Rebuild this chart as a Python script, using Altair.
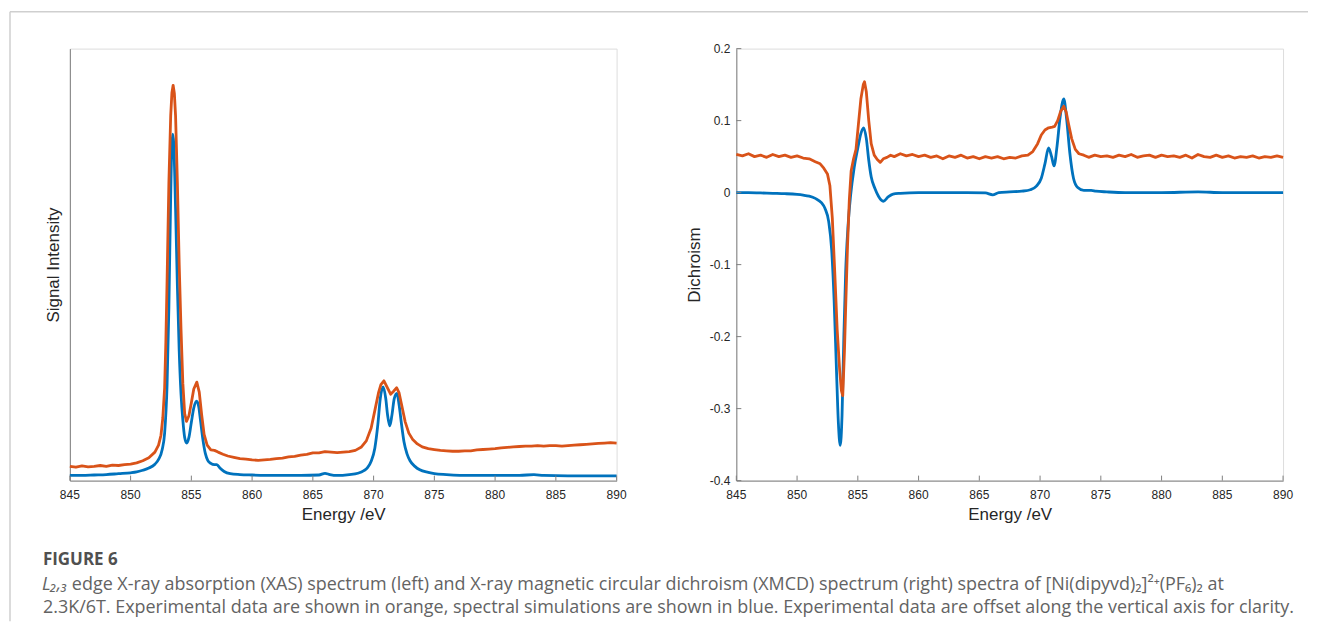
import altair as alt
import pandas as pd

# ---------------- data ----------------
# Left panel: XAS (arbitrary intensity, 0 = bottom of axis, 1 = top of axis)
xas_exp_E = [845.0, 845.5, 846.0, 846.5, 847.0, 847.5, 848.0, 848.5, 849.0, 849.5, 850.0, 850.5,
             851.0, 851.5, 852.0, 852.3, 852.5, 852.65, 852.8, 852.9, 853.0, 853.15, 853.3, 853.4,
             853.5, 853.6, 853.7, 853.85, 854.0, 854.15, 854.3, 854.45, 854.6, 854.8, 855.0, 855.2,
             855.45, 855.65, 855.85, 856.05, 856.3, 856.6, 856.9, 857.2, 857.6, 858.0, 858.5, 859.0,
             859.5, 860.0, 860.5, 861.0, 861.5, 862.0, 862.5, 863.0, 863.5, 864.0, 864.5, 865.0,
             865.5, 866.0, 866.5, 867.0, 867.5, 868.0, 868.5, 869.0, 869.4, 869.8, 870.1, 870.4,
             870.6, 870.85, 871.1, 871.4, 871.65, 871.9, 872.1, 872.3, 872.6, 872.9, 873.2, 873.6,
             874.0, 874.5, 875.0, 875.5, 876.0, 876.5, 877.0, 877.5, 878.0, 878.5, 879.0, 879.5,
             880.0, 880.5, 881.0, 881.5, 882.0, 882.5, 883.0, 883.5, 884.0, 884.5, 885.0, 885.5,
             886.0, 886.5, 887.0, 887.5, 888.0, 888.5, 889.0, 889.5, 890.0]
xas_exp_I = [0.033, 0.031, 0.034, 0.032, 0.033, 0.035, 0.033, 0.036, 0.035, 0.037, 0.038, 0.041,
             0.046, 0.053, 0.066, 0.082, 0.105, 0.145, 0.215, 0.32, 0.46, 0.69, 0.845, 0.898,
             0.915, 0.897, 0.845, 0.69, 0.50, 0.35, 0.225, 0.155, 0.137, 0.15, 0.18, 0.212,
             0.228, 0.205, 0.152, 0.107, 0.082, 0.071, 0.070, 0.066, 0.061, 0.057, 0.054, 0.051,
             0.050, 0.048, 0.047, 0.048, 0.049, 0.051, 0.052, 0.055, 0.056, 0.059, 0.061, 0.064,
             0.064, 0.067, 0.066, 0.065, 0.066, 0.067, 0.070, 0.078, 0.092, 0.122, 0.162, 0.203,
             0.222, 0.231, 0.217, 0.200, 0.207, 0.215, 0.203, 0.176, 0.136, 0.11, 0.096, 0.085,
             0.078, 0.074, 0.072, 0.070, 0.069, 0.068, 0.068, 0.069, 0.069, 0.071, 0.072, 0.073,
             0.074, 0.076, 0.077, 0.078, 0.079, 0.080, 0.080, 0.081, 0.080, 0.081, 0.081, 0.080,
             0.081, 0.082, 0.083, 0.084, 0.085, 0.086, 0.087, 0.088, 0.087]

xas_sim_E = [845.0, 846.0, 847.0, 848.0, 849.0, 850.0, 850.5, 851.0, 851.5, 852.0, 852.3, 852.6,
             852.8, 853.0, 853.15, 853.3, 853.4, 853.47, 853.55, 853.7, 853.85, 854.0, 854.15, 854.3,
             854.45, 854.62, 854.8, 855.0, 855.2, 855.43, 855.6, 855.75, 855.95, 856.15, 856.35, 856.6,
             856.9, 857.1, 857.35, 857.7, 858.2, 859.0, 860.0, 862.0, 864.0, 865.5, 866.0, 866.4,
             867.0, 868.0, 868.7, 869.2, 869.5, 869.8, 870.1, 870.35, 870.55, 870.78, 871.0, 871.15,
             871.33, 871.5, 871.7, 871.92, 872.1, 872.3, 872.5, 872.75, 873.0, 873.4, 873.8, 874.5,
             875.0, 876.0, 878.0, 880.0, 882.0, 883.2, 884.0, 886.0, 888.0, 890.0]
xas_sim_I = [0.012, 0.012, 0.013, 0.014, 0.016, 0.018, 0.020, 0.024, 0.029, 0.038, 0.049, 0.072,
             0.11, 0.22, 0.40, 0.66, 0.78, 0.802, 0.78, 0.63, 0.45, 0.30, 0.20, 0.14,
             0.10, 0.087, 0.10, 0.135, 0.168, 0.184, 0.172, 0.14, 0.095, 0.063, 0.047, 0.040,
             0.037, 0.037, 0.029, 0.021, 0.016, 0.014, 0.013, 0.012, 0.012, 0.013, 0.017, 0.014,
             0.012, 0.014, 0.017, 0.023, 0.030, 0.045, 0.075, 0.13, 0.19, 0.217, 0.19, 0.152,
             0.127, 0.15, 0.19, 0.202, 0.175, 0.13, 0.09, 0.062, 0.046, 0.033, 0.025, 0.019,
             0.016, 0.014, 0.012, 0.012, 0.012, 0.014, 0.012, 0.011, 0.011, 0.011]

# Right panel: XMCD (dichroism)
xmcd_exp_E = [845.0, 845.5, 846.0, 846.5, 847.0, 847.5, 848.0, 848.5, 849.0, 849.5, 850.0, 850.5,
              851.0, 851.5, 851.9, 852.2, 852.5, 852.7, 852.9, 853.1, 853.3, 853.5, 853.65, 853.76,
              853.9, 854.0, 854.15, 854.3, 854.45, 854.65, 854.85, 855.05, 855.25, 855.45, 855.55, 855.7,
              855.9, 856.1, 856.35, 856.6, 856.85, 857.1, 857.4, 857.7, 858.0, 858.5, 859.0, 859.5,
              860.0, 860.5, 861.0, 861.5, 862.0, 862.5, 863.0, 863.5, 864.0, 864.5, 865.0, 865.5,
              866.0, 866.5, 867.0, 867.5, 868.0, 868.5, 869.0, 869.4, 869.8, 870.1, 870.4, 870.7,
              871.0, 871.2, 871.45, 871.7, 871.95, 872.15, 872.35, 872.6, 872.9, 873.2, 873.6, 874.0,
              874.5, 875.0, 875.5, 876.0, 876.5, 877.0, 877.5, 878.0, 878.5, 879.0, 879.5, 880.0,
              880.5, 881.0, 881.5, 882.0, 882.5, 883.0, 883.5, 884.0, 884.5, 885.0, 885.5, 886.0,
              886.5, 887.0, 887.5, 888.0, 888.5, 889.0, 889.5, 890.0]
xmcd_exp_D = [0.053, 0.051, 0.054, 0.050, 0.052, 0.049, 0.053, 0.050, 0.052, 0.049, 0.051, 0.048,
              0.047, 0.043, 0.040, 0.034, 0.026, 0.010, -0.035, -0.11, -0.19, -0.245, -0.275, -0.282,
              -0.22, -0.16, -0.075, -0.01, 0.03, 0.047, 0.06, 0.095, 0.13, 0.15, 0.154, 0.14,
              0.10, 0.068, 0.052, 0.046, 0.042, 0.047, 0.049, 0.052, 0.050, 0.054, 0.051, 0.053,
              0.050, 0.052, 0.049, 0.051, 0.047, 0.051, 0.049, 0.052, 0.048, 0.050, 0.047, 0.050,
              0.048, 0.050, 0.047, 0.049, 0.048, 0.051, 0.052, 0.057, 0.068, 0.080, 0.087, 0.090,
              0.091, 0.092, 0.100, 0.113, 0.120, 0.112, 0.095, 0.075, 0.060, 0.054, 0.052, 0.049,
              0.052, 0.050, 0.051, 0.049, 0.052, 0.050, 0.053, 0.049, 0.051, 0.052, 0.049, 0.052,
              0.050, 0.051, 0.049, 0.052, 0.048, 0.053, 0.050, 0.049, 0.052, 0.049, 0.051, 0.048,
              0.050, 0.049, 0.051, 0.048, 0.050, 0.049, 0.051, 0.049]

xmcd_sim_E = [845.0, 846.0, 847.0, 848.0, 849.0, 850.0, 850.5, 851.0, 851.5, 852.0, 852.3, 852.6,
              852.85, 853.05, 853.25, 853.4, 853.55, 853.7, 853.85, 854.0, 854.2, 854.4, 854.7, 855.0,
              855.25, 855.48, 855.7, 855.9, 856.1, 856.4, 856.7, 857.1, 857.5, 857.9, 858.5, 860.0,
              862.0, 864.0, 865.5, 866.1, 866.6, 867.5, 868.5, 869.2, 869.7, 870.1, 870.4, 870.7,
              870.95, 871.15, 871.4, 871.65, 871.95, 872.2, 872.45, 872.75, 873.1, 873.6, 874.2, 874.6,
              875.5, 877.0, 880.0, 883.0, 885.0, 890.0]
xmcd_sim_D = [0.0, 0.0, -0.0005, -0.001, -0.0015, -0.0025, -0.0035, -0.005, -0.008, -0.014, -0.022, -0.04,
              -0.08, -0.15, -0.25, -0.32, -0.351, -0.31, -0.20, -0.11, -0.045, -0.005, 0.035, 0.062,
              0.082, 0.090, 0.075, 0.045, 0.022, 0.006, -0.005, -0.012, -0.006, -0.002, -0.001, 0.0,
              0.0, 0.0, -0.0005, -0.003, 0.0, 0.001, 0.002, 0.004, 0.009, 0.020, 0.040, 0.062,
              0.050, 0.037, 0.065, 0.105, 0.130, 0.100, 0.055, 0.020, 0.007, 0.003, 0.003, 0.002,
              0.001, 0.0, 0.0, 0.001, 0.0, 0.0]

x_ticks = [845, 850, 855, 860, 865, 870, 875, 880, 885, 890]
x_tick_labels = ["845", "850", "855", "860", "865", "870", "875", "880", "885", "890"]
y_ticks_right = [-0.4, -0.3, -0.2, -0.1, 0.0, 0.1, 0.2]
y_tick_labels_right = ["-0.4", "-0.3", "-0.2", "-0.1", "0", "0.1", "0.2"]

caption_head = "FIGURE 6"
caption_italic = "L₂,₃"
caption_line1 = ("edge X-ray absorption (XAS) spectrum (left) and X-ray magnetic circular dichroism "
                 "(XMCD) spectrum (right) spectra of [Ni(dipyvd)₂]²⁺(PF₆)₂ at")
caption_line2 = ("2.3K/6T. Experimental data are shown in orange, spectral simulations are shown in blue. "
                 "Experimental data are offset along the vertical axis for clarity.")

# ---------------- styling ----------------
BLUE = "#0072BD"
ORANGE = "#D95319"
AXC = "#808080"
TXT = "#262626"
FONT = "Liberation Sans"
W, H = 548, 433
LW = 2.8

xscale = alt.Scale(domain=[845, 890], nice=False, zero=False)
yscale_l = alt.Scale(domain=[0, 1], nice=False, zero=False)
yscale_r = alt.Scale(domain=[-0.4, 0.2], nice=False, zero=False)


def axis(title, pad):
    return alt.Axis(title=title, labels=False, grid=False, ticks=False, domainColor=AXC,
                    domainWidth=1, titleFont=FONT, titleFontSize=17, titleFontWeight="normal",
                    titleColor=TXT, titlePadding=pad)


x_axis = axis("Energy /eV", 26)
y_axis_l = axis("Signal Intensity", 7)
y_axis_r = axis("Dichroism", 33)


def trace(E, V, color, yscale, xaxis, yaxis, interp):
    return alt.Chart(pd.DataFrame({"E": E, "v": V})).mark_line(
        color=color, strokeWidth=LW, interpolate=interp, strokeJoin="round").encode(
        x=alt.X("E:Q", scale=xscale, axis=xaxis),
        y=alt.Y("v:Q", scale=yscale, axis=yaxis),
    )


one = pd.DataFrame({"k": [0]})

# inward tick marks and tick labels (same axis spec as the traces so the shared axis keeps its title)
xt_df = pd.DataFrame({"E": x_ticks, "lab": x_tick_labels})


def xticks():
    return alt.Chart(xt_df).mark_rule(color=AXC, strokeWidth=1).encode(
        x=alt.X("E:Q", scale=xscale, axis=x_axis), y=alt.value(H), y2=alt.value(H - 5))


def xlabels():
    return alt.Chart(xt_df).mark_text(font=FONT, fontSize=12, color=TXT, align="center",
                                      baseline="middle").encode(
        x=alt.X("E:Q", scale=xscale, axis=x_axis), y=alt.value(H + 14), text="lab:N")


yt_df = pd.DataFrame({"v": y_ticks_right, "lab": y_tick_labels_right})
right_yticks = alt.Chart(yt_df).mark_rule(color=AXC, strokeWidth=1).encode(
    y=alt.Y("v:Q", scale=yscale_r, axis=y_axis_r), x=alt.value(0), x2=alt.value(5))
right_ylabels = alt.Chart(yt_df).mark_text(font=FONT, fontSize=12, color=TXT, align="right",
                                           baseline="middle").encode(
    y=alt.Y("v:Q", scale=yscale_r, axis=y_axis_r), x=alt.value(-6), text="lab:N")

# frame lines (figure box)
frame_top = alt.Chart(one).mark_rule(color="#cfcfcf", strokeWidth=1.5).encode(
    x=alt.value(-60), x2=alt.value(1241), y=alt.value(-37))
frame_left = alt.Chart(one).mark_rule(color="#cfcfcf", strokeWidth=1.5).encode(
    x=alt.value(-60), y=alt.value(-37), y2=alt.value(574))


def cap(text, x, y, size=18, weight="normal", style="normal", color="#636363"):
    return alt.Chart(pd.DataFrame({"t": [text]})).mark_text(
        align="left", baseline="alphabetic", font="Open Sans", fontSize=size,
        fontWeight=weight, fontStyle=style, color=color).encode(
        text="t:N", x=alt.value(x), y=alt.value(y))


captions = (cap(caption_head, -27, 518, size=17, weight="bold", color="#505050")
            + cap(caption_italic, -28, 542.5, style="italic")
            + cap(caption_line1, 2, 542.5)
            + cap(caption_line2, -27, 565.5))

left = alt.layer(
    frame_top, frame_left,
    trace(xas_sim_E, xas_sim_I, BLUE, yscale_l, x_axis, y_axis_l, "monotone"),
    trace(xas_exp_E, xas_exp_I, ORANGE, yscale_l, x_axis, y_axis_l, "linear"),
    xticks(), xlabels(),
    captions,
).properties(width=W, height=H)

right = alt.layer(
    trace(xmcd_sim_E, xmcd_sim_D, BLUE, yscale_r, x_axis, y_axis_r, "monotone"),
    trace(xmcd_exp_E, xmcd_exp_D, ORANGE, yscale_r, x_axis, y_axis_r, "linear"),
    xticks(), xlabels(), right_yticks, right_ylabels,
).properties(width=W, height=H)

chart = alt.hconcat(left, right, spacing=120, bounds="flush").properties(
    padding={"left": 0, "top": 1, "right": 0, "bottom": 0}
).configure_view(strokeWidth=0).configure(background="white")

chart.save("out.html", embed_options={"renderer": "svg", "actions": False})
